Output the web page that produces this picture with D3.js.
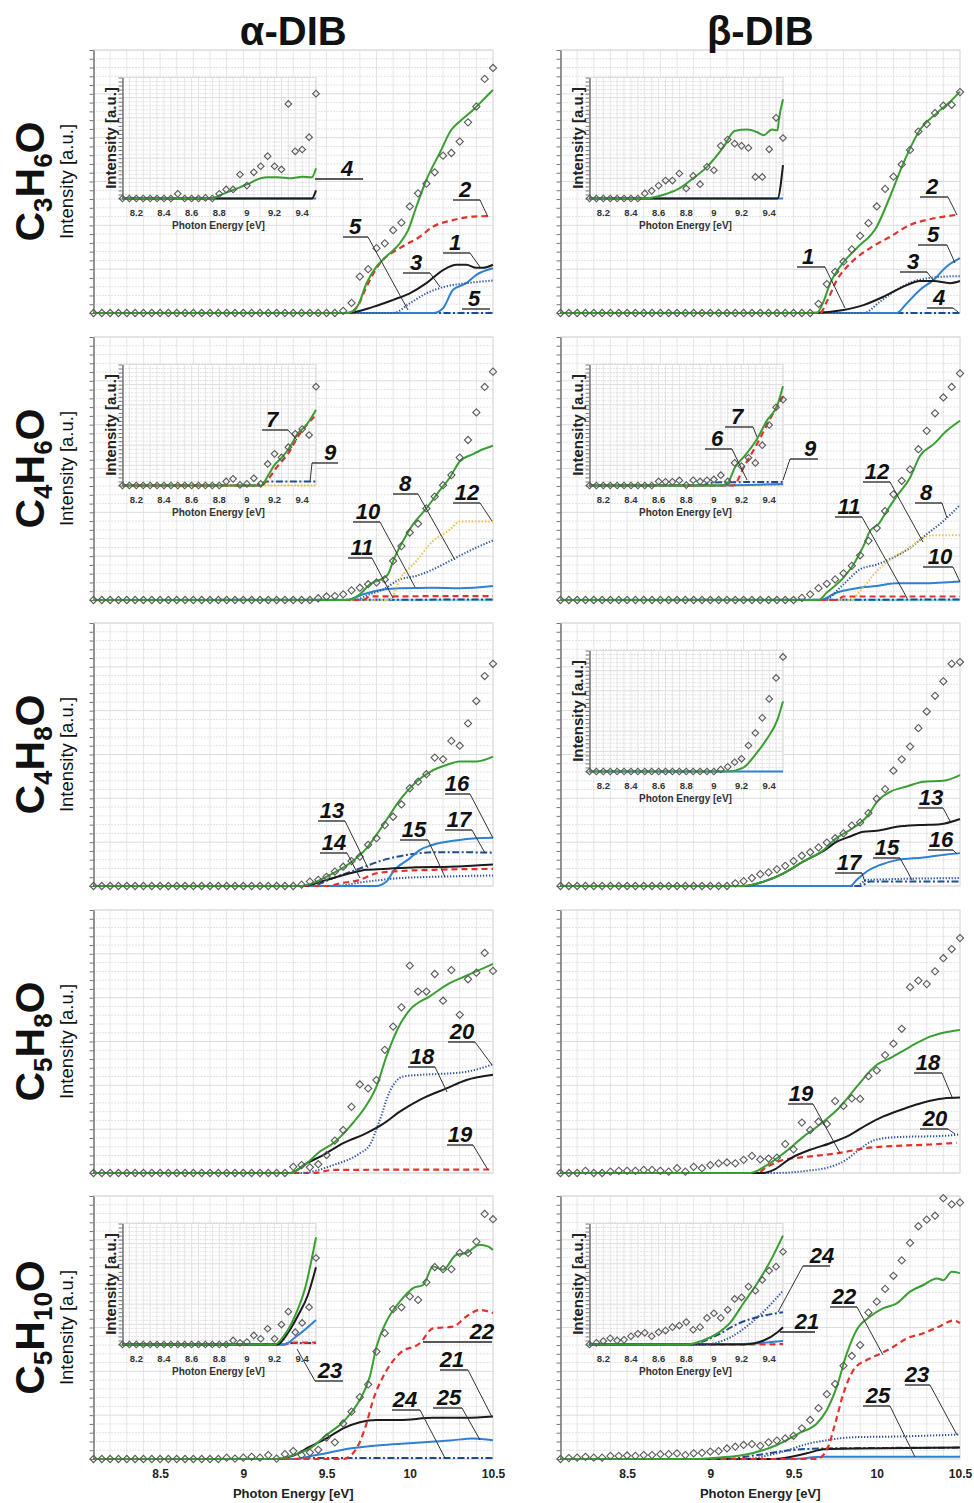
<!DOCTYPE html>
<html>
<head>
<meta charset="utf-8">
<script src="https://cdn.jsdelivr.net/npm/d3@7"></script>
<style>
  body { margin: 0; background: #fff; }
  svg { display: block; font-family: "Liberation Sans", Arial, sans-serif; }
</style>
</head>
<body>
<svg id="chart" width="974" height="1503"></svg>
<script>
// ---- data ----
const columns = ["α-DIB", "β-DIB"];
const formulas = ["C3H6O", "C4H6O", "C4H8O", "C5H8O", "C5H10O"];
const mainTicks = [8.5, 9, 9.5, 10, 10.5];
const insetTicks = [8.2, 8.4, 8.6, 8.8, 9, 9.2, 9.4];

const E_MAIN = [8.1,8.15,8.2,8.25,8.3,8.35,8.4,8.45,8.5,8.55,8.6,8.65,8.7,8.75,8.8,8.85,8.9,8.95,9.0,9.05,9.1,9.15,9.2,9.25,9.3,9.35,9.4,9.45,9.5,9.55,9.6,9.65,9.7,9.75,9.8,9.85,9.9,9.95,10.0,10.05,10.1,10.15,10.2,10.25,10.3,10.35,10.4,10.45,10.5];
const E_INSET = [8.1,8.15,8.2,8.25,8.3,8.35,8.4,8.45,8.5,8.55,8.6,8.65,8.7,8.75,8.8,8.85,8.9,8.95,9.0,9.05,9.1,9.15,9.2,9.25,9.3,9.35,9.4,9.45,9.5];

// experimental points (diamonds), one value per energy in E_MAIN / E_INSET
const expA1 = [0,0,0,0,0,0,0,0,0,0, 0,0,0,0,0,0,0,0,0,0, 0,0,0,0,0,0,0,0,0,0, 0.05,0.23,0.83,1.0,1.48,1.59,1.89,2.06,2.43,2.73,2.95,3.21,3.59,3.65,3.91,4.35,4.71,5.34,5.59];
const expB1 = [0,0,0,0,0,0,0,0,0,0, 0,0,0,0,0,0,0,0,0,0, 0,0,0,0,0,0,0,0,0,0, 0, 0.21,0.66,0.94,1.17,1.45,1.76,2.05,2.43,2.83,3.11,3.39,3.72,4.14,4.31,4.56,4.73,4.75,5.04];
const expA2 = [0,0,0,0,0,0,0,0,0,0, 0,0,0,0,0,0,0,0,0,0, 0,0,0,0,0,0,0, 0.04,0.08,0.09,0.13,0.22,0.28,0.36,0.40,0.47,0.89,1.23,1.54,1.74,2.09,2.36,2.62,2.85,3.25,3.65,4.28,4.86,5.21];
const expB2 = [0,0,0,0,0,0,0,0,0,0, 0,0,0,0,0,0,0,0,0,0, 0,0,0,0,0,0,0,0,0, 0.05,0.13,0.27,0.37,0.47,0.61,0.78,1.02,1.35,1.64,2.03,2.41,2.72,2.98,3.44,3.86,4.26,4.62,4.86,5.17];
const expA3 = [0,0,0,0,0,0,0,0,0,0, 0,0,0,0,0,0,0,0,0,0, 0,0,0,0,0, 0.03,0.1,0.14,0.21,0.33,0.44,0.57,0.67,0.94,1.09,1.39,1.58,1.86,2.23,2.38,2.55,2.93,2.89,3.31,3.2,3.71,4.22,4.79,5.07];
const expB3 = [0,0,0,0,0,0,0,0,0,0, 0,0,0,0,0,0,0,0,0,0, 0, 0.06,0.11,0.18,0.27,0.31,0.38,0.46,0.57,0.69,0.77,0.88,0.99,1.09,1.2,1.38,1.45,1.66,1.99,2.21,2.63,2.89,3.18,3.6,3.98,4.34,4.67,5.07,5.11];
const expA4 = [0,0,0,0,0,0,0,0,0,0, 0,0,0,0,0,0,0,0,0,0, 0,0,0,0, 0.14,0.18,0.13,0.2,0.41,0.74,0.98,1.51,2.02,1.93,2.12,2.81,3.34,3.78,4.73,4.14,4.14,4.54,3.93,4.63,3.61,4.42,4.57,5.02,4.61];
const expB4 = [0,0,0,0.05,0,0,0.03,0.05,0.05,0.05,0.07,0.07,0.05,0.03,0.11,0.03,0.14,0.11,0.18,0.22,0.24,0.22,0.3,0.39,0.31,0.33,0.35,0.66,0.54,1.15,0.98,1.17,1.12,1.64,1.53,1.7,1.69,2.21,2.34,2.69,2.95,3.29,4.24,4.39,4.31,4.6,4.9,5.11,5.36];
const expA5 = [0,0,0,0,0,0,0,0,0,0, 0,0,0,0,0,0, 0.03,0.01,0.03,0.05,0.03,0.09,0.01,0.11,0.18,0.09,0.15,0.21,0.49,0.38,0.81,1.08,1.41,1.7,2.45,2.87,3.42,3.46,3.71,3.63,4.03,4.38,4.33,4.33,4.7,4.7,4.96,5.59,5.47];
const expB5 = [0,0.02,0.03,0.05,0.03,0.03,0.07,0.07,0.08,0.07,0.09,0.09,0.11,0.11,0.13,0.09,0.13,0.14,0.17,0.18,0.24,0.28,0.32,0.34,0.3,0.38,0.42,0.47,0.53,0.7,0.89,1.16,1.48,1.71,2.13,2.35,2.6,3.34,3.59,3.88,4.18,4.53,4.93,5.31,5.46,5.55,5.95,5.81,5.85];

const inExpA1 = [0,0,0,0,0,0,0,0, 0.23,0,0,0,0.03,0,0.23,0.45,0.45,1.19,0.64,1.3,1.6,2.1,1.6,1.44,4.69,2.34,2.43,3.04,5.2];
const inExpB1 = [0,0,0,0,0,0,0,0, 0.25,0.38,0.64,0.89,0.89,1.24,0.5,1.12,0.71,1.57,1.4,2.61,2.92,2.72,2.61,2.51,1.07,1.07,2.44,4.0,3.0];
const inExpA2 = [0,0,0,0,0,0,0,0,0,0,0,0,0,0,0, 0.2,0.33,0.03,0.08,0.36,0.08,1.07,1.57,1.39,1.9,2.56,2.8,2.5,4.9];
const inExpB2 = [0,0,0,0,0,0,0,0,0,0, 0.2,0.18,0.18,0.25,0.02,0.26,0.2,0.26,0.3,0.51,0.2,1.12,0.96,1.37,1.12,2.0,3.0,3.88,4.26];
const inExpB3 = [0,0,0,0,0,0,0,0,0,0,0,0,0,0,0,0,0,0,0, 0.1,0.23,0.46,0.63,1.29,1.91,2.66,3.6,4.64,5.68];
const inExpA5 = [0,0,0,0,0,0,0,0,0,0,0,0,0,0,0,0, 0.2,0.08,0.12,0.45,0.28,0.78,0.28,0.99,1.63,0.61,1.07,1.85,4.29];
const inExpB5 = [0,0.08,0.17,0.31,0.2,0.23,0.41,0.53,0.58,0.41,0.61,0.69,0.86,0.94,1.11,0.73,0.86,1.32,1.55,1.32,1.72,2.26,2.34,2.87,2.67,3.2,3.66,3.86,4.6];

// computed contributions, [energy, intensity]
// α-DIB C3H6O
const a1Tot = [[8.1,0],[9.62,0],[9.66,0.05],[9.69,0.18],[9.74,0.68],[9.80,1.06],[9.86,1.29],[9.94,1.59],[9.99,1.89],[10.04,2.43],[10.10,3.04],[10.18,3.65],[10.25,4.18],[10.30,4.37],[10.38,4.63],[10.44,4.86],[10.5,5.09]];
const a1Red = [[8.1,0],[9.64,0],[9.69,0.18],[9.74,0.60],[9.82,1.13],[9.94,1.48],[10.06,1.74],[10.14,1.97],[10.26,2.12],[10.38,2.2],[10.48,2.21]];
const a1Blk = [[8.1,0],[9.62,0],[9.78,0.14],[9.90,0.30],[10.0,0.45],[10.1,0.68],[10.2,0.98],[10.28,1.10],[10.34,1.10],[10.4,1.03],[10.44,1.03],[10.5,1.10]];
const a1Dot = [[8.1,0],[9.9,0],[10.0,0.22],[10.1,0.45],[10.2,0.59],[10.34,0.68],[10.5,0.74]];
const a1Blue = [[8.1,0],[10.14,0],[10.2,0.11],[10.26,0.53],[10.34,0.68],[10.4,0.87],[10.5,1.02]];
const a1Dash = [[8.1,0],[10.5,0]];
const a1InTot = [[8.1,0],[8.75,0],[8.8,0.15],[8.9,0.42],[9.0,0.7],[9.1,1.0],[9.15,1.05],[9.22,1.05],[9.32,1.0],[9.4,1.08],[9.47,1.05],[9.5,1.5]];
const a1InBlue = [[8.1,0],[9.5,0]];
const a1InBlk = [[8.1,0],[9.47,0],[9.5,0.4]];
// β-DIB C3H6O
const b1Tot = [[8.1,0],[9.64,0],[9.68,0.26],[9.72,0.68],[9.78,1.06],[9.88,1.48],[10.0,1.97],[10.08,2.66],[10.16,3.42],[10.26,4.18],[10.36,4.56],[10.44,4.82],[10.5,5.05]];
const b1Red = [[8.1,0],[9.66,0],[9.70,0.26],[9.76,0.75],[9.84,1.13],[9.96,1.48],[10.08,1.74],[10.2,2.01],[10.32,2.14],[10.48,2.24]];
const b1Blk = [[8.1,0],[9.6,0],[9.8,0.07],[9.92,0.18],[10.04,0.37],[10.16,0.6],[10.26,0.73],[10.34,0.73],[10.44,0.68],[10.5,0.73]];
const b1Dot = [[8.1,0],[9.92,0],[10.02,0.26],[10.12,0.53],[10.22,0.72],[10.3,0.79],[10.4,0.83],[10.5,0.84]];
const b1Blue = [[8.1,0],[10.12,0],[10.18,0.22],[10.26,0.53],[10.34,0.75],[10.42,1.06],[10.5,1.25]];
const b1Dash = [[8.1,0],[10.5,0]];
const b1InTot = [[8.1,0],[8.5,0],[8.63,0.17],[8.75,0.5],[8.85,1.0],[8.95,1.57],[9.07,2.56],[9.15,3.35],[9.24,3.42],[9.31,3.3],[9.36,3.14],[9.42,3.42],[9.46,3.38],[9.47,3.9],[9.5,4.92]];
const b1InBlue = [[8.1,0],[9.5,0]];
const b1InBlk = [[8.1,0],[9.46,0],[9.5,1.65]];
// α-DIB C4H6O
const a2Tot = [[8.1,0],[9.62,0],[9.7,0.13],[9.76,0.36],[9.84,0.5],[9.87,0.59],[9.9,0.89],[9.96,1.35],[10.02,1.73],[10.1,2.09],[10.18,2.5],[10.24,2.79],[10.3,3.16],[10.38,3.33],[10.44,3.44],[10.5,3.52]];
const a2Yel = [[8.1,0],[9.88,0],[9.94,0.47],[10.04,0.89],[10.14,1.35],[10.24,1.6],[10.3,1.79],[10.5,1.79]];
const a2Dot = [[8.1,0],[9.66,0],[9.76,0.13],[9.84,0.24],[9.94,0.47],[10.04,0.55],[10.14,0.7],[10.26,0.93],[10.38,1.16],[10.5,1.36]];
const a2Blue = [[8.1,0],[9.62,0],[9.72,0.13],[9.84,0.24],[9.94,0.27],[10.14,0.28],[10.3,0.27],[10.5,0.32]];
const a2Red = [[8.1,0],[9.72,0],[9.76,0.08],[10.5,0.09]];
const a2Dash = [[8.1,0],[10.5,0.01]];
const a2Cyan = [[8.1,0],[10.5,0]];
const a2InTot = [[8.1,0],[9.1,0],[9.15,0.45],[9.2,1.02],[9.26,1.44],[9.32,2.01],[9.37,2.6],[9.42,2.92],[9.5,3.75]];
const a2InRed = [[8.1,0],[9.1,0],[9.15,0.28],[9.22,0.94],[9.3,1.6],[9.37,2.43],[9.5,3.5]];
const a2InDash = [[8.1,0],[9.05,0],[9.15,0.2],[9.5,0.2]];
const a2InYel = [[8.1,0],[9.5,0]];
// β-DIB C4H6O
const b2Tot = [[8.1,0],[9.65,0],[9.7,0.17],[9.8,0.51],[9.86,0.81],[9.92,1.23],[9.96,1.58],[10.01,1.73],[10.06,2.03],[10.12,2.37],[10.2,2.79],[10.26,3.29],[10.34,3.55],[10.42,3.86],[10.5,4.09]];
const b2Dot = [[8.1,0],[9.68,0],[9.8,0.36],[9.9,0.7],[10.0,0.81],[10.1,0.97],[10.2,1.19],[10.3,1.5],[10.4,1.8],[10.5,2.17]];
const b2Yel = [[8.1,0],[9.84,0],[9.9,0.2],[10.0,0.66],[10.1,0.97],[10.2,1.2],[10.28,1.42],[10.34,1.48],[10.5,1.48]];
const b2Blue = [[8.1,0],[9.66,0],[9.76,0.17],[9.88,0.27],[10.0,0.32],[10.12,0.38],[10.28,0.38],[10.5,0.42]];
const b2Red = [[8.1,0],[9.76,0],[9.8,0.08],[10.5,0.08]];
const b2Dash = [[8.1,0],[10.5,0.01]];
const b2Cyan = [[8.1,0],[10.5,0]];
const b2InTot = [[8.1,0],[9.05,0],[9.1,0.13],[9.15,0.87],[9.23,1.53],[9.31,2.28],[9.38,3.18],[9.46,4.0],[9.5,4.92]];
const b2InRed = [[8.1,0],[9.14,0],[9.22,0.96],[9.31,2.03],[9.41,3.35],[9.5,4.42]];
const b2InDash = [[8.1,0],[8.9,0],[9.0,0.15],[9.5,0.18]];
const b2InBlue = [[8.1,0],[9.0,0],[9.5,0.08]];
const b2InYel = [[8.1,0],[9.5,0]];
// α-DIB C4H8O
const a3Tot = [[8.1,0],[9.35,0],[9.44,0.1],[9.54,0.29],[9.64,0.52],[9.74,0.86],[9.84,1.39],[9.94,1.96],[10.04,2.38],[10.12,2.6],[10.22,2.76],[10.3,2.84],[10.4,2.84],[10.5,2.95]];
const a3Blk = [[8.1,0],[9.35,0],[9.5,0.14],[9.64,0.29],[9.74,0.37],[9.84,0.39],[10.04,0.43],[10.24,0.44],[10.5,0.49]];
const a3Red = [[8.1,0],[9.5,0],[9.58,0.06],[9.7,0.14],[9.8,0.29],[9.94,0.34],[10.14,0.37],[10.5,0.39]];
const a3Blue = [[8.1,0],[9.8,0],[9.86,0.1],[9.9,0.33],[10.0,0.63],[10.06,0.82],[10.14,0.94],[10.3,1.05],[10.4,1.09],[10.5,1.1]];
const a3Dash = [[8.1,0],[9.4,0],[9.54,0.18],[9.7,0.40],[9.84,0.59],[10.0,0.72],[10.14,0.77],[10.3,0.77],[10.5,0.76]];
const a3Dot = [[8.1,0],[9.54,0],[9.74,0.1],[9.94,0.18],[10.14,0.21],[10.5,0.24]];
// β-DIB C4H8O
const b3Tot = [[8.1,0],[9.2,0],[9.32,0.1],[9.44,0.29],[9.56,0.56],[9.68,0.82],[9.76,1.1],[9.84,1.28],[9.94,1.58],[10.01,1.96],[10.08,2.15],[10.18,2.27],[10.28,2.38],[10.4,2.4],[10.5,2.53]];
const b3Blk = [[8.1,0],[9.2,0],[9.32,0.1],[9.44,0.29],[9.56,0.56],[9.68,0.8],[9.76,1.01],[9.84,1.13],[9.92,1.24],[10.0,1.26],[10.12,1.35],[10.26,1.39],[10.38,1.41],[10.5,1.53]];
const b3Blue = [[8.1,0],[9.84,0],[9.88,0.14],[9.94,0.33],[10.02,0.48],[10.12,0.59],[10.28,0.65],[10.42,0.72],[10.5,0.75]];
const b3Dot = [[8.1,0],[9.88,0],[9.94,0.14],[10.5,0.18]];
const b3Dash = [[8.1,0],[9.9,0],[9.96,0.1],[10.5,0.1]];
const b3InTot = [[8.1,0],[9.1,0],[9.21,0.18],[9.31,0.92],[9.38,1.58],[9.46,2.57],[9.5,3.48]];
const b3InBlue = [[8.1,0],[9.5,0]];
// α-DIB C5H8O
const a4Tot = [[8.1,0],[9.28,0],[9.38,0.22],[9.46,0.49],[9.54,0.68],[9.64,1.06],[9.74,1.55],[9.8,1.97],[9.86,2.66],[9.94,3.38],[10.0,3.72],[10.12,4.03],[10.24,4.33],[10.34,4.5],[10.44,4.67],[10.5,4.77]];
const a4Blk = [[8.1,0],[9.28,0],[9.38,0.22],[9.48,0.41],[9.6,0.68],[9.74,0.91],[9.84,1.12],[9.94,1.4],[10.06,1.67],[10.22,1.93],[10.34,2.12],[10.5,2.24]];
const a4Dot = [[8.1,0],[9.34,0],[9.54,0.18],[9.7,0.45],[9.76,0.64],[9.82,1.21],[9.88,1.86],[9.96,2.2],[10.06,2.24],[10.18,2.26],[10.34,2.31],[10.5,2.48]];
const a4Red = [[8.1,0],[9.42,0],[9.54,0.07],[10.5,0.08]];
// β-DIB C5H8O
const b4Tot = [[8.1,0],[9.24,0],[9.34,0.18],[9.44,0.45],[9.56,0.83],[9.68,1.17],[9.78,1.51],[9.88,1.97],[10.0,2.47],[10.08,2.62],[10.2,2.88],[10.32,3.11],[10.44,3.23],[10.5,3.26]];
const b4Blk = [[8.1,0],[9.32,0],[9.38,0.07],[9.48,0.33],[9.6,0.53],[9.72,0.68],[9.84,0.87],[9.94,1.1],[10.04,1.29],[10.16,1.46],[10.28,1.61],[10.4,1.7],[10.5,1.72]];
const b4Red = [[8.1,0],[9.28,0],[9.34,0.14],[9.44,0.3],[9.58,0.37],[9.78,0.46],[9.92,0.56],[10.12,0.62],[10.32,0.65],[10.48,0.69]];
const b4Dot = [[8.1,0],[9.38,0],[9.58,0.05],[9.72,0.14],[9.82,0.31],[9.88,0.49],[9.98,0.74],[10.08,0.81],[10.2,0.83],[10.36,0.84],[10.5,0.88]];
// α-DIB C5H10O
const a5Tot = [[8.1,0],[9.2,0],[9.3,0.09],[9.4,0.24],[9.5,0.55],[9.6,0.85],[9.7,1.35],[9.76,1.88],[9.8,2.56],[9.86,3.14],[9.94,3.59],[10.02,3.9],[10.08,3.97],[10.14,4.39],[10.2,4.32],[10.28,4.66],[10.34,4.7],[10.42,4.89],[10.47,4.85],[10.5,4.77]];
const a5Blk = [[8.1,0],[9.2,0],[9.3,0.08],[9.4,0.28],[9.5,0.47],[9.6,0.7],[9.7,0.84],[9.8,0.89],[9.94,0.89],[10.14,0.94],[10.34,0.94],[10.5,0.97]];
const a5Red = [[8.1,0],[9.6,0],[9.68,0.24],[9.74,0.81],[9.78,1.35],[9.84,1.88],[9.94,2.41],[10.06,2.64],[10.14,2.98],[10.26,3.02],[10.34,3.25],[10.42,3.4],[10.5,3.33]];
const a5Blue = [[8.1,0],[9.3,0],[9.44,0.09],[9.64,0.24],[9.84,0.32],[10.04,0.37],[10.24,0.42],[10.38,0.47],[10.5,0.43]];
const a5Dash = [[8.1,0],[9.3,0],[9.4,0.02],[10.5,0.02]];
const a5InTot = [[8.1,0],[9.2,0],[9.27,0.45],[9.35,1.44],[9.42,2.76],[9.5,5.31]];
const a5InBlk = [[8.1,0],[9.22,0],[9.3,0.61],[9.37,1.44],[9.44,2.43],[9.5,3.83]];
const a5InBlue = [[8.1,0],[9.27,0],[9.35,0.36],[9.5,1.22]];
const a5InRed = [[8.1,0],[9.28,0],[9.32,0.1],[9.5,0.1]];
const a5InDash = [[8.1,0],[9.26,0],[9.3,0.08],[9.5,0.08]];
// β-DIB C5H10O
const b5Tot = [[8.1,0],[8.9,0],[9.0,0.02],[9.2,0.09],[9.4,0.32],[9.54,0.6],[9.64,0.81],[9.7,1.12],[9.76,1.65],[9.82,2.41],[9.88,2.95],[9.96,3.25],[10.04,3.44],[10.12,3.55],[10.2,3.82],[10.28,3.97],[10.36,4.12],[10.4,4.08],[10.45,4.27],[10.5,4.24]];
const b5Red = [[8.1,0],[9.64,0],[9.7,0.21],[9.75,0.81],[9.8,1.5],[9.86,2.03],[9.94,2.26],[10.02,2.4],[10.1,2.56],[10.18,2.75],[10.28,2.87],[10.38,3.03],[10.46,3.16],[10.5,3.1]];
const b5Dot = [[8.1,0],[9.2,0],[9.4,0.13],[9.6,0.36],[9.7,0.43],[9.88,0.5],[10.08,0.51],[10.28,0.53],[10.5,0.56]];
const b5Blk = [[8.1,0],[9.38,0],[9.58,0.13],[9.68,0.22],[9.88,0.24],[10.5,0.26]];
const b5Dash = [[8.1,0],[9.08,0],[9.28,0.09],[9.48,0.2],[9.68,0.24],[10.5,0.26]];
const b5Blue = [[8.1,0],[9.48,0],[9.68,0.05],[10.5,0.05]];
const b5InTot = [[8.1,0],[8.8,0],[8.92,0.2],[9.02,0.53],[9.12,1.1],[9.21,2.01],[9.31,3.0],[9.41,4.16],[9.5,5.4]];
const b5InDot = [[8.1,0],[8.92,0],[9.12,0.36],[9.26,1.02],[9.38,1.77],[9.5,2.67]];
const b5InDash = [[8.1,0],[8.82,0],[9.02,0.45],[9.17,1.02],[9.31,1.35],[9.5,1.6]];
const b5InBlk = [[8.1,0],[9.21,0],[9.36,0.2],[9.46,0.61],[9.5,0.86]];
const b5InBlue = [[8.1,0],[9.21,0.03],[9.5,0.17]];
const b5InRed = [[8.1,0],[9.34,0],[9.5,0.02]];

// numbered callouts: [label, text x, underline y, underline x1, x2, leader end x, y] (page px)
const notesA1 = [["5",355,237,343,368,408,310],["2",465,200,453,480,488,217],["1",455,253,443,470,480,267],["3",416,273,403,430,440,287],["5",474,309,462,490,null,null],["4",347,179,315,363,null,null]];
const notesB1 = [["1",808,267,797,825,845,308],["2",932,197,920,948,957,215],["5",933,245,918,947,955,263],["3",913,272,900,927,933,280],["4",939,308,927,953,958,312]];
const notesA2 = [["8",405,494,393,418,455,560],["12",467,503,453,480,492,521],["10",368,522,353,380,415,587],["11",362,558,348,372,393,598],["7",272,430,262,288,297,440],["9",330,463,312,338,310,482]];
const notesB2 = [["12",877,482,863,890,923,542],["8",926,503,915,942,947,518],["11",849,517,835,862,907,598],["10",940,567,923,953,960,582],["7",737,427,725,753,757,437],["6",717,449,705,732,747,480],["9",810,459,790,818,783,480]];
const notesA3 = [["13",332,821,318,345,368,868],["14",334,853,320,347,360,878],["15",414,840,400,428,445,877],["16",457,794,445,470,493,838],["17",459,830,445,472,485,853]];
const notesB3 = [["13",931,808,918,943,950,821],["16",941,850,928,953,957,854],["15",887,858,873,900,912,880],["17",849,873,835,862,865,882]];
const notesA4 = [["20",462,1042,448,475,492,1065],["18",422,1067,408,435,447,1092],["19",460,1145,447,473,488,1170]];
const notesB4 = [["19",801,1104,788,813,840,1153],["18",928,1073,914,942,952,1097],["20",935,1129,920,948,955,1134]];
const notesA5 = [["22",482,1342,423,492,null,null],["21",452,1370,440,468,492,1417],["25",449,1408,433,462,480,1440],["24",405,1410,392,420,445,1458],["23",330,1381,315,343,297,1349]];
const notesB5 = [["24",822,1266,803,830,778,1312],["21",807,1332,780,815,null,null],["22",844,1307,830,857,883,1355],["23",917,1385,905,930,957,1435],["25",878,1406,863,890,915,1457]];

// ---- panel table ----
const panels = [
  {col:0,row:0, exp:expA1, lines:[["dash",a1Dash],["blue",a1Blue],["dot",a1Dot],["blk",a1Blk],["red",a1Red],["tot",a1Tot]],
   inset:{exp:inExpA1, lines:[["blue",a1InBlue],["blk",a1InBlk],["tot",a1InTot]]}, notes:notesA1},
  {col:1,row:0, exp:expB1, lines:[["dash",b1Dash],["blue",b1Blue],["dot",b1Dot],["blk",b1Blk],["red",b1Red],["tot",b1Tot]],
   inset:{exp:inExpB1, lines:[["blue",b1InBlue],["blk",b1InBlk],["tot",b1InTot]]}, notes:notesB1},
  {col:0,row:1, exp:expA2, lines:[["cyan",a2Cyan],["dash",a2Dash],["blue",a2Blue],["dot",a2Dot],["yel",a2Yel],["red",a2Red],["tot",a2Tot]],
   inset:{exp:inExpA2, lines:[["yel",a2InYel],["dash",a2InDash],["red",a2InRed],["tot",a2InTot]]}, notes:notesA2},
  {col:1,row:1, exp:expB2, lines:[["cyan",b2Cyan],["dash",b2Dash],["blue",b2Blue],["dot",b2Dot],["yel",b2Yel],["red",b2Red],["tot",b2Tot]],
   inset:{exp:inExpB2, lines:[["yel",b2InYel],["blue",b2InBlue],["dash",b2InDash],["red",b2InRed],["tot",b2InTot]]}, notes:notesB2},
  {col:0,row:2, exp:expA3, lines:[["dot",a3Dot],["dash",a3Dash],["blue",a3Blue],["red",a3Red],["blk",a3Blk],["tot",a3Tot]], inset:null, notes:notesA3},
  {col:1,row:2, exp:expB3, lines:[["dash",b3Dash],["dot",b3Dot],["blue",b3Blue],["blk",b3Blk],["tot",b3Tot]],
   inset:{exp:inExpB3, lines:[["blue",b3InBlue],["tot",b3InTot]]}, notes:notesB3},
  {col:0,row:3, exp:expA4, lines:[["red",a4Red],["dot",a4Dot],["blk",a4Blk],["tot",a4Tot]], inset:null, notes:notesA4},
  {col:1,row:3, exp:expB4, lines:[["dot",b4Dot],["red",b4Red],["blk",b4Blk],["tot",b4Tot]], inset:null, notes:notesB4},
  {col:0,row:4, exp:expA5, lines:[["dash",a5Dash],["blue",a5Blue],["blk",a5Blk],["red",a5Red],["tot",a5Tot]],
   inset:{exp:inExpA5, lines:[["dash",a5InDash],["red",a5InRed],["blue",a5InBlue],["blk",a5InBlk],["tot",a5InTot]]}, notes:notesA5},
  {col:1,row:4, exp:expB5, lines:[["blue",b5Blue],["dash",b5Dash],["blk",b5Blk],["dot",b5Dot],["red",b5Red],["tot",b5Tot]],
   inset:{exp:inExpB5, lines:[["red",b5InRed],["blue",b5InBlue],["blk",b5InBlk],["dot",b5InDot],["dash",b5InDash],["tot",b5InTot]]}, notes:notesB5}
];

const STYLE = {
  tot:  {c:"#3a9f32", w:2,   d:null},
  blk:  {c:"#1b1b1b", w:2,   d:null},
  red:  {c:"#e4312b", w:2.2, d:"6,4"},
  blue: {c:"#2f80d3", w:2,   d:null},
  dot:  {c:"#2c55a5", w:2,   d:"1.3,1.7"},
  dash: {c:"#1f4c8e", w:2,   d:"7,2.5,2,2.5"},
  yel:  {c:"#efc04a", w:2,   d:"1.5,1.8"},
  cyan: {c:"#86d4ea", w:2.5, d:null}
};

// ---- layout ----
const svg = d3.select("#chart");
const COL_X = [93.5, 560.5], ROW_Y = [50, 337, 623, 910, 1196];
const PW = 399.5, PH = 263;
const IN_DX = 29, IN_DY = 27.5, IW = 193.5, IH = 121;
const FONT = '"Liberation Sans", Arial, sans-serif';
const fmt = d3.format("~g");

function drawGrid(g, x, y, nx) {
  const [xl, xr] = x.range(), [yb, yt] = y.range();
  g.append("rect").attr("x", xl).attr("y", yt).attr("width", xr - xl).attr("height", yb - yt)
    .attr("fill", "#fff").attr("stroke", "#d8d8d8");
  g.append("g").selectAll("line").data(x.ticks(nx)).join("line")
    .attr("x1", d => x(d)).attr("x2", d => x(d)).attr("y1", yt).attr("y2", yb)
    .attr("stroke", "#e6e6e6").attr("stroke-width", 1);
  g.append("g").selectAll("line").data(y.ticks(30).filter(v => Math.abs(v - Math.round(v)) > 1e-6)).join("line")
    .attr("x1", xl).attr("x2", xr).attr("y1", d => y(d)).attr("y2", d => y(d))
    .attr("stroke", "#c8c8c8").attr("stroke-dasharray", "1,2");
  g.append("g").selectAll("line").data(y.ticks(6)).join("line")
    .attr("x1", xl).attr("x2", xr).attr("y1", d => y(d)).attr("y2", d => y(d))
    .attr("stroke", "#dcdcdc");
  g.append("g").attr("transform", `translate(${xl},0)`)
    .call(d3.axisLeft(y).ticks(30).tickSize(4).tickSizeOuter(0).tickFormat(""))
    .call(a => a.select(".domain").attr("stroke", "#555").attr("stroke-width", 1.2))
    .call(a => a.selectAll(".tick line").attr("stroke", "#777"));
}

function drawSeries(g, x, y, energies, exp, lines, symSize) {
  const line = d3.line().x(d => x(d[0])).y(d => y(d[1])).curve(d3.curveMonotoneX);
  lines.forEach(([key, pts]) => {
    const s = STYLE[key];
    g.append("path").datum(pts).attr("d", line).attr("fill", "none")
      .attr("stroke", s.c).attr("stroke-width", s.w)
      .attr("stroke-dasharray", s.d).attr("stroke-linejoin", "round");
  });
  const sym = d3.symbol().type(d3.symbolSquare).size(symSize);
  g.append("g").selectAll("path").data(exp).join("path")
    .attr("d", sym)
    .attr("transform", (d, i) => `translate(${x(energies[i])},${y(d)}) rotate(45)`)
    .attr("fill", "none").attr("stroke", "#5a5a5a").attr("stroke-width", 1.1);
}

function drawNotes(notes) {
  const g = svg.append("g");
  notes.forEach(([t, tx, uy, ux1, ux2, lx, ly]) => {
    g.append("text").attr("x", tx).attr("y", uy - 3).attr("text-anchor", "middle")
      .attr("font-family", FONT).attr("font-size", 22).attr("font-weight", "bold")
      .attr("font-style", "italic").attr("fill", "#111").text(t);
    g.append("line").attr("x1", ux1).attr("x2", ux2).attr("y1", uy).attr("y2", uy)
      .attr("stroke", "#222").attr("stroke-width", 1.3);
    if (lx != null) {
      const sx = Math.abs(lx - ux1) < Math.abs(lx - ux2) ? ux1 : ux2;
      g.append("line").attr("x1", sx).attr("y1", uy).attr("x2", lx).attr("y2", ly)
        .attr("stroke", "#333").attr("stroke-width", 1);
    }
  });
}

panels.forEach(p => {
  const x0 = COL_X[p.col], y0 = ROW_Y[p.row];
  const x = d3.scaleLinear().domain([8.1, 10.5]).range([x0, x0 + PW]);
  const y = d3.scaleLinear().domain([0, 6]).range([y0 + PH, y0]);
  const g = svg.append("g");
  drawGrid(g, x, y, 24);

  if (p.row === 4) {
    g.append("g").attr("transform", `translate(0,${y0 + PH})`)
      .call(d3.axisBottom(x).tickValues(mainTicks).tickSize(0).tickFormat(fmt))
      .call(a => a.select(".domain").remove())
      .call(a => a.selectAll("text").attr("dy", null).attr("y", 19)
        .attr("font-family", FONT).attr("font-size", 12).attr("font-weight", "bold").attr("fill", "#222"));
    g.append("text").attr("x", x0 + PW / 2).attr("y", y0 + PH + 39).attr("text-anchor", "middle")
      .attr("font-family", FONT).attr("font-size", 13).attr("font-weight", "bold").attr("fill", "#222")
      .text("Photon Energy [eV]");
  }

  if (p.inset) {
    const ix0 = x0 + IN_DX, iy0 = y0 + IN_DY;
    const ix = d3.scaleLinear().domain([8.1, 9.5]).range([ix0, ix0 + IW]);
    const iy = d3.scaleLinear().domain([0, 6]).range([iy0 + IH, iy0]);
    const ig = g.append("g");
    drawGrid(ig, ix, iy, 28);
    ig.append("g").selectAll("text").data(insetTicks).join("text")
      .attr("x", d => ix(d)).attr("y", iy0 + IH + 17).attr("text-anchor", "middle")
      .attr("font-family", FONT).attr("font-size", 9.5).attr("font-weight", "bold").attr("fill", "#333")
      .text(fmt);
    ig.append("text").attr("x", ix0 + 96).attr("y", iy0 + IH + 30).attr("text-anchor", "middle")
      .attr("font-family", FONT).attr("font-size", 10).attr("font-weight", "bold").attr("fill", "#333")
      .text("Photon Energy [eV]");
    ig.append("text").attr("transform", `translate(${ix0 - 7},${iy0 + IH / 2}) rotate(-90)`)
      .attr("text-anchor", "middle").attr("font-family", FONT).attr("font-size", 15)
      .attr("font-weight", "bold").attr("fill", "#222").text("Intensity [a.u.]");
    drawSeries(ig, ix, iy, E_INSET, p.inset.exp, p.inset.lines, 22);
  }

  drawSeries(g, x, y, E_MAIN, p.exp, p.lines, 26);
});

// column titles
columns.forEach((c, i) => {
  svg.append("text").attr("x", COL_X[i] + PW / 2).attr("y", 45).attr("text-anchor", "middle")
    .attr("font-family", FONT).attr("font-size", 40).attr("font-weight", "bold").attr("fill", "#111").text(c);
});

// row labels: formula + axis title
formulas.forEach((f, r) => {
  const cy = ROW_Y[r] + PH / 2;
  const t = svg.append("text").attr("transform", `translate(44,${cy}) rotate(-90)`)
    .attr("text-anchor", "middle").attr("font-family", FONT).attr("font-size", 41)
    .attr("font-weight", "bold").attr("fill", "#111");
  let sub = false;
  f.match(/\d+|[A-Z][a-z]?/g).forEach(part => {
    const isNum = /\d/.test(part);
    const ts = t.append("tspan").text(part);
    if (isNum && !sub) { ts.attr("font-size", 26).attr("dy", 8); sub = true; }
    else if (!isNum && sub) { ts.attr("dy", -8); sub = false; }
  });
  svg.append("text").attr("transform", `translate(73,${cy}) rotate(-90)`)
    .attr("text-anchor", "middle").attr("font-family", FONT).attr("font-size", 18.5)
    .attr("fill", "#111").text("Intensity [a.u.]");
});

panels.forEach(p => drawNotes(p.notes));
</script>
</body>
</html>
